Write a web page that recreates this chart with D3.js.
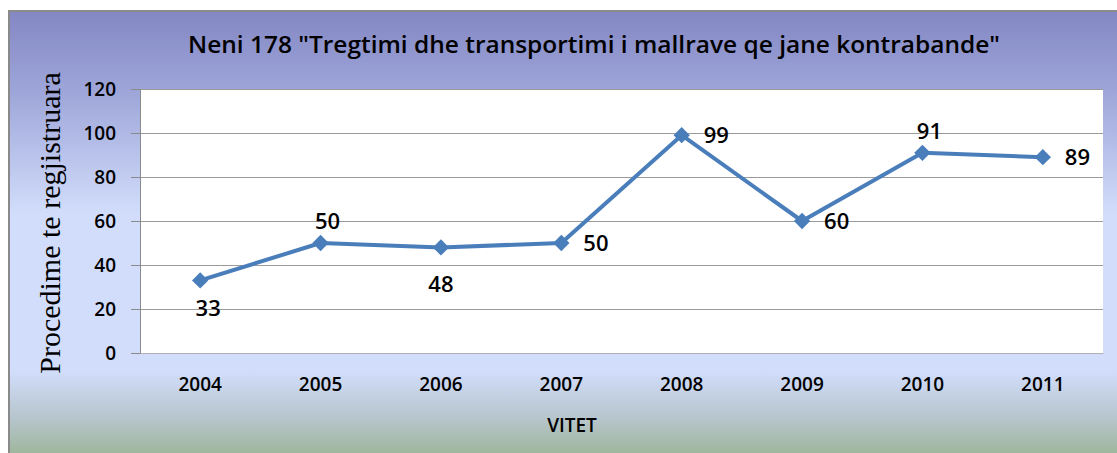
<!DOCTYPE html>
<html><head><meta charset="utf-8">
<script src="https://cdn.jsdelivr.net/npm/d3@7"></script>
<style>html,body{margin:0;padding:0;background:#fff;overflow:hidden}</style>
</head><body>
<svg id="c" width="1117" height="453"></svg>
<script>
const title = 'Neni 178 "Tregtimi dhe transportimi i mallrave qe jane kontrabande"';
const yTitle = "Procedime te regjistruara";
const xTitle = "VITET";
const years = ["2004","2005","2006","2007","2008","2009","2010","2011"];
const values = [33, 50, 48, 50, 99, 60, 91, 89];
const labelPos = ["below","above","below","right","right","right","above","right"];
const yTicks = [0, 20, 40, 60, 80, 100, 120];

// label offsets (layout only)
const labelOffset = {
  below: [[8,36],[0,0],[0,45]],
  above: [7,-14],
  right: [22,8]
};

const svg = d3.select("#c");
const defs = svg.append("defs");
const g = defs.append("linearGradient").attr("id","bg").attr("x1",0).attr("y1",0).attr("x2",0).attr("y2",1);
[[0,"#8387c3"],[0.18,"#9ea6d9"],[0.45,"#d2ddfb"],[0.8,"#d2ddfb"],[0.9,"#b8c6cf"],[1,"#9ab393"]].forEach(s=>
  g.append("stop").attr("offset",s[0]).attr("stop-color",s[1]));

svg.append("rect").attr("x",9).attr("y",11).attr("width",1120).attr("height",450)
  .attr("fill","url(#bg)").attr("stroke","#8a8a8a").attr("stroke-width",2);

const L=140,R=1103,T=89,B=353;
svg.append("rect").attr("x",L).attr("y",T).attr("width",R-L).attr("height",B-T).attr("fill","#fff");

const x = d3.scaleBand().domain(years).range([L,R]);
const y = d3.scaleLinear().domain([0,120]).range([B,T]);
const cx = d => x(d)+x.bandwidth()/2;

// gridlines
svg.append("g").selectAll("line").data(yTicks).join("line")
  .attr("x1",L).attr("x2",R).attr("y1",d=>y(d)).attr("y2",d=>y(d))
  .attr("stroke","#9a9a9a").attr("stroke-width",1).attr("shape-rendering","crispEdges");

// y axis
const ya = svg.append("g").attr("transform",`translate(${L},0)`)
  .call(d3.axisLeft(y).tickValues(yTicks).tickSize(9).tickPadding(15));
ya.select(".domain").attr("stroke","#8a8a8a");
ya.selectAll(".tick line").attr("stroke","#8a8a8a");
ya.selectAll("text").attr("font-family","'Open Sans', sans-serif").attr("font-size",19).attr("font-weight",600).attr("fill","#000");

// x axis labels
const xa = svg.append("g").attr("transform",`translate(0,${B})`)
  .call(d3.axisBottom(x).tickSize(0).tickPadding(25));
xa.select(".domain").attr("stroke","#b0b0b0");
xa.selectAll("text").attr("font-family","'Open Sans', sans-serif").attr("font-size",19).attr("font-weight",600).attr("fill","#000");

// line
const line = d3.line().x((d,i)=>cx(years[i])).y(d=>y(d));
svg.append("path").datum(values).attr("d",line).attr("fill","none")
  .attr("stroke","#4a7ebb").attr("stroke-width",4).attr("stroke-linejoin","round");

svg.append("g").selectAll("path").data(values).join("path")
  .attr("transform",(d,i)=>`translate(${cx(years[i])},${y(d)})`)
  .attr("d",d3.symbol(d3.symbolDiamond2,170)())
  .attr("fill","#4a7ebb");

// data labels
function off(i){
  const p = labelPos[i];
  if(p==="below") return i===0 ? labelOffset.below[0] : labelOffset.below[2];
  return labelOffset[p];
}
svg.append("g").selectAll("text").data(values).join("text")
  .attr("x",(d,i)=>cx(years[i])+off(i)[0])
  .attr("y",(d,i)=>y(d)+off(i)[1])
  .attr("text-anchor",(d,i)=>labelPos[i]==="right"?"start":"middle")
  .attr("font-family","'Open Sans', sans-serif").attr("font-size",22).attr("font-weight",600).attr("fill","#000")
  .text(d=>d);

// titles
svg.append("text").attr("x",594).attr("y",53).attr("text-anchor","middle")
  .attr("font-family","'Open Sans', sans-serif").attr("font-size",24).attr("font-weight",600).attr("fill","#000")
  .attr("textLength",812).attr("lengthAdjust","spacingAndGlyphs")
  .text(title);
svg.append("text").attr("x",572).attr("y",432).attr("text-anchor","middle")
  .attr("font-family","'Open Sans', sans-serif").attr("font-size",19).attr("font-weight",600).attr("fill","#000")
  .text(xTitle);
svg.append("text").attr("transform","translate(60,223) rotate(-90)").attr("text-anchor","middle")
  .attr("font-family","'Liberation Serif', serif").attr("font-size",30).attr("fill","#000")
  .text(yTitle);
</script>
</body></html>
